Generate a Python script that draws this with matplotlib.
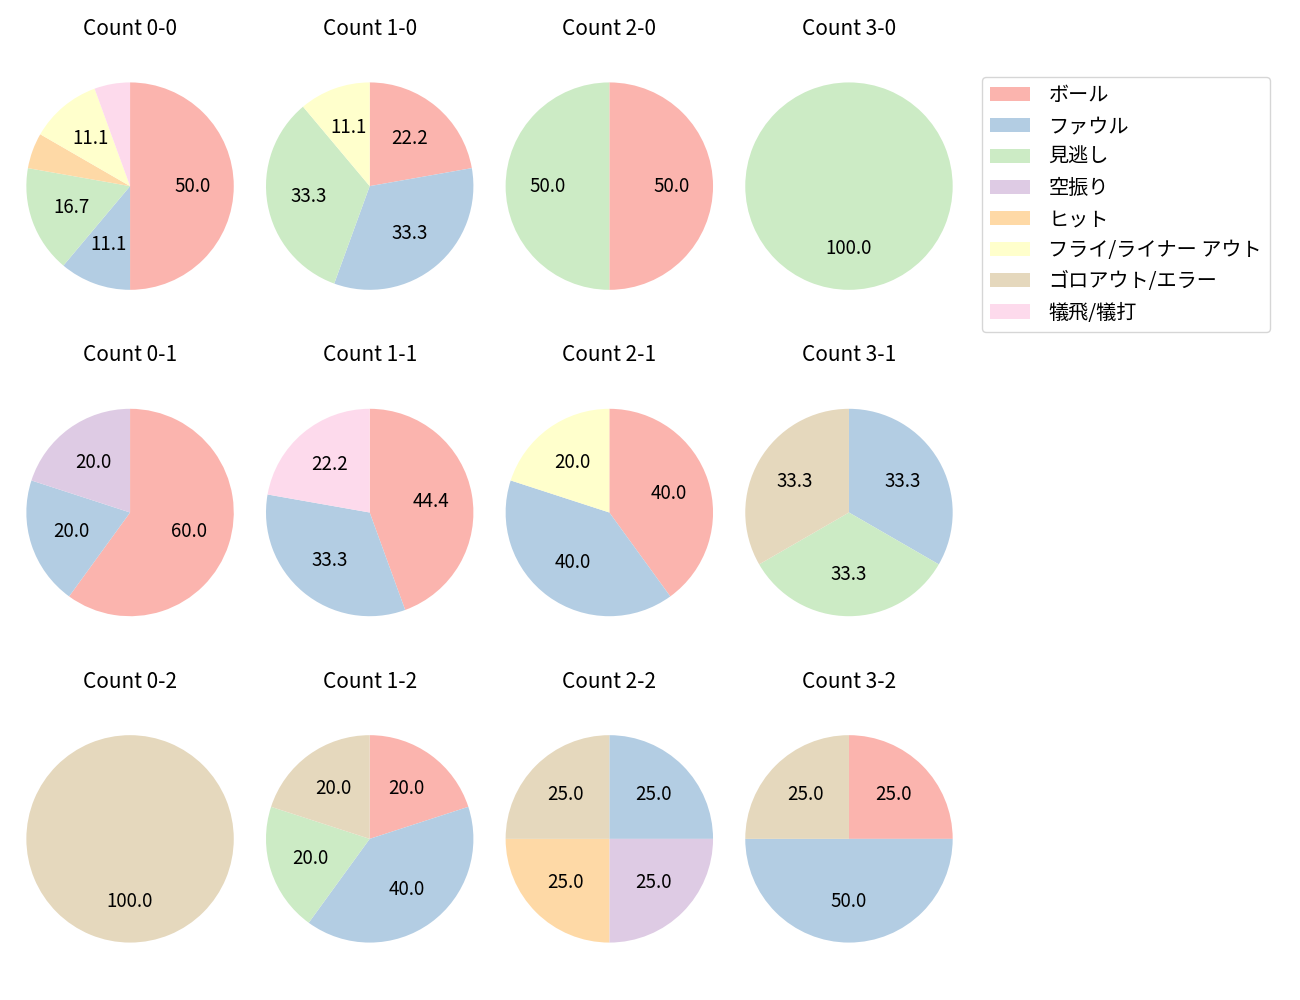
import matplotlib
matplotlib.use("Agg")
import matplotlib.pyplot as plt
from matplotlib.patches import Patch

plt.rcParams['font.family'] = ['Noto Sans CJK JP', 'DejaVu Sans']

categories = ['ボール', 'ファウル', '見逃し', '空振り', 'ヒット',
              'フライ/ライナー アウト', 'ゴロアウト/エラー', '犠飛/犠打']

# counts per category for each ball-strike count (balls-strikes)
count_titles = ['Count 0-0', 'Count 1-0', 'Count 2-0', 'Count 3-0',
                'Count 0-1', 'Count 1-1', 'Count 2-1', 'Count 3-1',
                'Count 0-2', 'Count 1-2', 'Count 2-2', 'Count 3-2']

c_0_0 = [9, 2, 3, 0, 1, 2, 0, 1]
c_1_0 = [2, 3, 3, 0, 0, 1, 0, 0]
c_2_0 = [1, 0, 1, 0, 0, 0, 0, 0]
c_3_0 = [0, 0, 1, 0, 0, 0, 0, 0]
c_0_1 = [3, 1, 0, 1, 0, 0, 0, 0]
c_1_1 = [4, 3, 0, 0, 0, 0, 0, 2]
c_2_1 = [2, 2, 0, 0, 0, 1, 0, 0]
c_3_1 = [0, 1, 1, 0, 0, 0, 1, 0]
c_0_2 = [0, 0, 0, 0, 0, 0, 1, 0]
c_1_2 = [1, 2, 1, 0, 0, 0, 1, 0]
c_2_2 = [0, 1, 0, 1, 1, 0, 1, 0]
c_3_2 = [1, 2, 0, 0, 0, 0, 1, 0]

all_counts = [c_0_0, c_1_0, c_2_0, c_3_0,
              c_0_1, c_1_1, c_2_1, c_3_1,
              c_0_2, c_1_2, c_2_2, c_3_2]

colors = plt.get_cmap('Pastel1').colors[:8]

fig, axes = plt.subplots(3, 4, figsize=(13, 10), dpi=100)
fig.subplots_adjust(left=0.0123, right=0.7408, wspace=0.0504,
                    top=0.951, bottom=0.024, hspace=0.19)

for ax, title, vals in zip(axes.flat, count_titles, all_counts):
    idx = [i for i, v in enumerate(vals) if v > 0]
    sizes = [vals[i] for i in idx]
    cols = [colors[i] for i in idx]
    ax.pie(sizes, colors=cols, startangle=90, counterclock=False,
           autopct=lambda p: f'{p:.1f}' if p >= 10 else '',
           textprops={'fontsize': 13.5})
    ax.axis('equal')
    ax.set_title(title, fontsize=15, pad=10)

handles = [Patch(facecolor=c) for c in colors]
fig.legend(handles, categories, loc='upper left',
           bbox_to_anchor=(982 / 1300, 1 - 77 / 1000), borderaxespad=0,
           fontsize=14.5, handletextpad=0.9)

fig.savefig('out.png')
